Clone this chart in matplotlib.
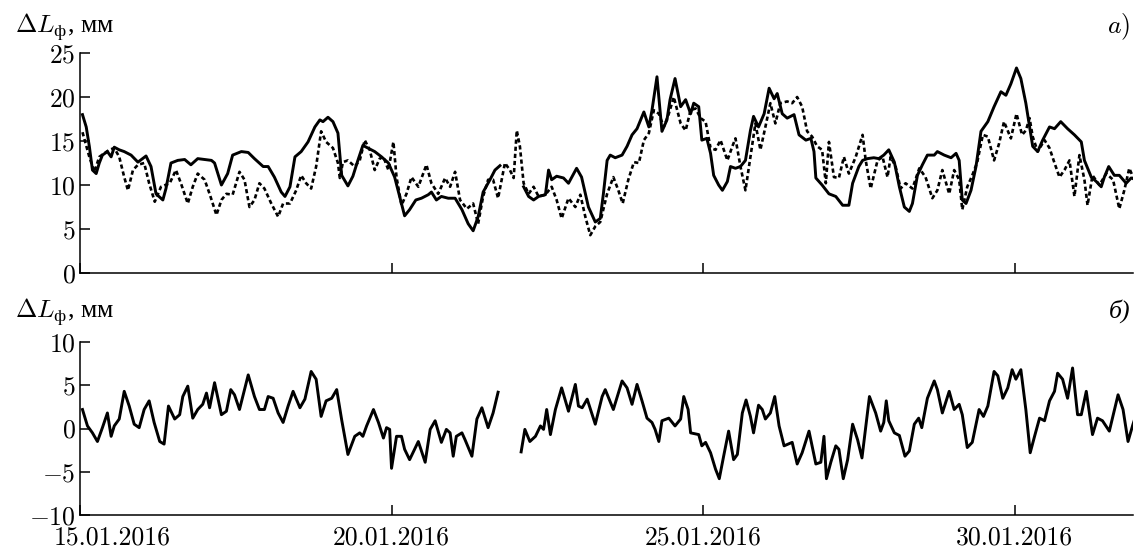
import numpy as np
import matplotlib
matplotlib.use("Agg")
import matplotlib.pyplot as plt
import matplotlib.transforms as mtransforms

plt.rcParams['font.family'] = ['cmr10', 'Liberation Serif', 'DejaVu Serif']
plt.rcParams['mathtext.fontset'] = 'cm'
plt.rcParams['axes.formatter.use_mathtext'] = True
plt.rcParams['font.size'] = 18.5

# --- top panel: measured (solid) and model (dashed), mm; x = day of January 2016
solid_days = [15.04, 15.10, 15.15, 15.20, 15.26, 15.31, 15.36, 15.44, 15.50, 15.55, 15.63, 15.71,
              15.82, 15.93, 16.06, 16.14, 16.22, 16.33, 16.38, 16.46, 16.57, 16.68, 16.78, 16.89,
              17.00, 17.11, 17.16, 17.27, 17.37, 17.45, 17.59, 17.70, 17.80, 17.94, 18.02, 18.12,
              18.23, 18.29, 18.37, 18.45, 18.55, 18.66, 18.77, 18.85, 18.90, 18.98, 19.06, 19.14,
              19.20, 19.30, 19.38, 19.46, 19.54, 19.62, 19.73, 19.84, 19.95, 20.05, 20.13, 20.21,
              20.29, 20.39, 20.48, 20.59, 20.64, 20.72, 20.80, 20.91, 21.02, 21.13, 21.23, 21.31,
              21.39, 21.47, 21.58, 21.66, 21.74, 21.90,
              22.12, 22.20, 22.28, 22.36, 22.47, 22.52, 22.57, 22.65, 22.76, 22.84, 22.97, 23.05,
              23.16, 23.27, 23.35,
              23.40, 23.46, 23.51, 23.59, 23.70, 23.78, 23.86, 23.94, 24.05, 24.13, 24.18, 24.26,
              24.34, 24.42, 24.47, 24.55, 24.64, 24.72, 24.80, 24.85, 24.93, 24.98, 25.06, 25.12,
              25.17, 25.25, 25.31, 25.39, 25.44, 25.52, 25.60, 25.68, 25.76, 25.81, 25.89, 25.98,
              26.06, 26.14, 26.19, 26.27, 26.35, 26.46, 26.54, 26.65, 26.73, 26.78, 26.81, 26.91,
              27.02, 27.13, 27.24, 27.34, 27.40, 27.50,
              27.56, 27.64, 27.74, 27.82, 27.90, 27.98, 28.07, 28.15, 28.23, 28.31, 28.36, 28.44,
              28.52, 28.60, 28.71, 28.76, 28.87, 28.98, 29.06, 29.11, 29.16, 29.22, 29.30, 29.38,
              29.46, 29.57, 29.67, 29.78, 29.86, 29.94, 30.03, 30.10, 30.18, 30.24, 30.29, 30.37,
              30.45, 30.56, 30.64, 30.74, 30.85, 30.96, 31.07, 31.12, 31.23, 31.31, 31.39, 31.44,
              31.51, 31.60, 31.68, 31.79, 31.87, 31.95]
solid_vals = [18.0, 16.6, 14.4, 11.7, 11.3, 12.5, 13.4, 13.8, 13.2, 14.3, 14.0, 13.8,
              13.4, 12.6, 13.3, 12.1, 9.0, 8.3, 9.6, 12.5, 12.8, 12.9, 12.3, 13.0,
              12.9, 12.8, 12.5, 10.0, 11.3, 13.4, 13.8, 13.7, 13.0, 12.1, 12.1, 10.9,
              9.2, 8.7, 9.8, 13.2, 13.8, 14.9, 16.6, 17.4, 17.2, 17.7, 17.2, 15.9,
              11.1, 9.9, 11.0, 12.8, 14.5, 14.2, 13.8, 13.2, 12.5, 10.9, 8.7, 6.5,
              7.2, 8.3, 8.5, 8.9, 9.2, 8.3, 8.7, 8.5, 8.5, 7.2, 5.6, 4.8,
              6.4, 9.2, 10.6, 11.7, 12.2, np.nan,
              9.8, 8.7, 8.3, 8.7, 8.9, 11.7, 10.6, 11.0, 10.8, 10.2, 11.9, 10.9,
              7.5, 5.8, 6.2,
              9.0, 12.8, 13.4, 13.1, 13.4, 14.4, 15.7, 16.4, 18.3, 16.6, 18.5, 22.3,
              16.1, 17.4, 19.7, 22.1, 18.9, 19.7, 18.1, 19.3, 18.9, 15.1, 15.3, 13.6,
              11.1, 10.0, 9.4, 10.4, 12.1, 11.9, 12.1, 12.8, 16.2, 17.8, 16.6, 18.1,
              21.0, 19.8, 20.4, 18.1, 17.6, 18.0, 15.7, 15.1, 15.3, 13.8, 10.8, 10.0,
              9.0, 8.7, 7.7, 7.7, 10.2, 12.1,
              12.8, 13.0, 13.1, 13.0, 13.4, 14.0, 12.6, 9.8, 7.5, 7.0, 7.9, 11.1,
              12.3, 13.4, 13.4, 13.8, 13.4, 13.1, 13.6, 12.8, 8.3, 7.9, 9.4, 12.1,
              16.1, 17.2, 18.9, 20.6, 20.2, 21.5, 23.3, 22.1, 19.3, 16.6, 14.4, 13.8,
              15.1, 16.6, 16.4, 17.2, 16.4, 15.7, 14.9, 12.8, 10.9, 10.4, 9.8, 10.9,
              12.1, 11.1, 11.1, 10.2, 10.8, 10.6]

dash_days = [15.04, 15.15, 15.23, 15.31, 15.39, 15.47, 15.55, 15.63, 15.71, 15.77, 15.85, 15.93,
             16.03, 16.11, 16.20, 16.30, 16.44, 16.54, 16.62, 16.73, 16.81, 16.89, 17.00, 17.08,
             17.19, 17.27, 17.35, 17.45, 17.56, 17.64, 17.72, 17.80, 17.88, 17.96, 18.07, 18.18,
             18.26, 18.37, 18.47, 18.55, 18.63, 18.71, 18.79, 18.87, 18.95, 19.06, 19.14, 19.17,
             19.22, 19.30, 19.41, 19.49, 19.57, 19.65, 19.73, 19.81, 19.87, 19.95, 20.03, 20.08,
             20.16, 20.24, 20.32, 20.43, 20.56, 20.64, 20.75, 20.86, 20.94, 21.02, 21.10, 21.21,
             21.31, 21.39, 21.47, 21.55, 21.63, 21.71, 21.82, 21.90, 21.96, 22.01, 22.06, 22.12,
             22.20, 22.28, 22.36, 22.47, 22.57, 22.65, 22.73, 22.84, 22.95, 23.03, 23.11, 23.19,
             23.27, 23.35, 23.46, 23.56, 23.64, 23.71, 23.80, 23.89, 23.97, 24.05, 24.13, 24.21,
             24.29, 24.37, 24.45, 24.53, 24.64, 24.72, 24.80, 24.88, 24.96, 25.04, 25.12, 25.20,
             25.28, 25.39, 25.47, 25.52, 25.60, 25.68, 25.76, 25.84, 25.92, 26.00, 26.08, 26.16,
             26.24, 26.35, 26.43, 26.51, 26.59, 26.67, 26.75, 26.83, 26.91, 26.97, 27.02, 27.10,
             27.18, 27.26, 27.34, 27.45, 27.56, 27.61, 27.69, 27.80, 27.88, 27.96, 28.01, 28.09,
             28.17, 28.25, 28.36, 28.47, 28.57, 28.68, 28.76, 28.84, 28.95, 29.03, 29.11, 29.16,
             29.24, 29.32, 29.40, 29.49, 29.57, 29.67, 29.75, 29.83, 29.94, 30.03, 30.12, 30.18,
             30.24, 30.29, 30.37, 30.48, 30.56, 30.64, 30.72, 30.80, 30.88, 30.96, 31.04, 31.12,
             31.17, 31.25, 31.36, 31.47, 31.58, 31.68, 31.76, 31.84, 31.92, 31.95]
dash_vals = [16.0, 13.2, 11.5, 13.2, 13.6, 14.0, 14.2, 13.2, 10.9, 9.4, 11.7, 12.3,
             12.5, 10.2, 8.1, 9.8, 10.2, 11.7, 10.2, 7.9, 9.8, 11.3, 10.6, 9.0,
             6.6, 8.3, 9.0, 8.9, 11.5, 10.6, 7.5, 8.3, 10.2, 9.6, 7.9, 6.4,
             7.9, 7.9, 9.4, 11.1, 10.2, 9.6, 12.1, 16.1, 14.9, 14.2, 12.5, 10.8,
             12.6, 12.8, 12.1, 12.8, 15.1, 14.0, 11.7, 13.0, 13.2, 11.7, 14.9, 10.9,
             7.7, 9.0, 10.9, 9.8, 12.3, 10.2, 9.0, 10.8, 9.8, 11.5, 8.3, 7.3,
             7.9, 5.6, 8.7, 10.6, 10.6, 8.5, 12.5, 11.7, 10.8, 16.2, 14.4, 10.2,
             9.0, 9.8, 8.7, 8.9, 9.8, 8.3, 6.2, 8.5, 7.5, 8.9, 6.4, 4.3,
             5.3, 5.8, 9.0, 10.9, 9.4, 7.9, 10.6, 12.6, 12.5, 15.1, 15.9, 18.5,
             18.1, 16.6, 18.1, 20.0, 17.0, 16.2, 18.5, 18.7, 17.6, 17.2, 14.2, 14.0,
             15.1, 12.8, 14.4, 15.3, 12.1, 9.4, 13.2, 17.0, 14.0, 16.6, 19.3, 17.0,
             19.3, 19.5, 19.3, 20.0, 18.9, 16.1, 15.5, 14.4, 14.0, 10.2, 14.9, 10.9,
             10.8, 13.2, 11.3, 13.2, 15.7, 12.8, 9.6, 12.8, 13.2, 10.9, 13.2, 12.1,
             9.6, 10.2, 9.6, 11.9, 10.9, 8.5, 9.4, 11.7, 9.0, 11.7, 10.6, 7.2,
             9.8, 11.1, 12.6, 15.7, 15.5, 12.8, 14.7, 17.2, 15.3, 18.1, 15.7, 16.2,
             17.6, 15.5, 13.8, 15.1, 14.2, 12.5, 10.9, 11.7, 12.8, 8.7, 13.4, 10.6,
             7.7, 11.1, 10.0, 11.3, 10.6, 7.3, 9.4, 11.9, 10.6, 8.9]

# --- bottom panel: difference, mm
diff_days = [15.04, 15.12, 15.20, 15.28, 15.36, 15.44, 15.50, 15.55, 15.63, 15.71, 15.79, 15.87,
             15.95, 16.03, 16.11, 16.19, 16.28, 16.35, 16.42, 16.52, 16.60, 16.65, 16.73, 16.81,
             16.89, 16.97, 17.03, 17.08, 17.16, 17.27, 17.35, 17.42, 17.48, 17.56, 17.70, 17.80,
             17.88, 17.96, 18.02, 18.10, 18.18, 18.26, 18.34, 18.42, 18.53, 18.61, 18.71, 18.79,
             18.87, 18.95, 19.04, 19.12, 19.20, 19.30, 19.41, 19.49, 19.54, 19.60, 19.71, 19.79,
             19.87, 19.92, 19.97, 20.00, 20.08, 20.16, 20.21, 20.29, 20.43, 20.54, 20.62, 20.70,
             20.80, 20.88, 20.94, 20.99, 21.04, 21.13, 21.18, 21.29, 21.37, 21.45, 21.55, 21.63,
             21.71, 21.90,
             22.08, 22.14, 22.22, 22.31, 22.39, 22.44, 22.49, 22.55, 22.63, 22.73, 22.84, 22.95,
             23.00, 23.06, 23.14, 23.27, 23.38, 23.43, 23.56, 23.70, 23.78, 23.86, 23.94, 24.02,
             24.10, 24.18, 24.23, 24.29, 24.34, 24.45, 24.55, 24.64, 24.69, 24.76, 24.80, 24.93,
             24.98, 25.04, 25.12, 25.20, 25.26, 25.33, 25.41, 25.49, 25.55, 25.63, 25.69, 25.76,
             25.81, 25.89, 25.95, 26.00, 26.08, 26.15, 26.22, 26.30, 26.43, 26.51, 26.59, 26.70,
             26.81, 26.89, 26.94, 26.98, 27.05, 27.13, 27.18, 27.25, 27.32, 27.40, 27.48, 27.55,
             27.67, 27.77, 27.85, 27.90, 27.94, 27.98, 28.07, 28.15, 28.24, 28.31, 28.39, 28.46,
             28.51, 28.60, 28.71, 28.76, 28.84, 28.95, 29.03, 29.11, 29.16, 29.24, 29.32, 29.43,
             29.50, 29.57, 29.67, 29.73, 29.81, 29.89, 29.96, 30.02, 30.10, 30.18, 30.25, 30.32,
             30.40, 30.48, 30.56, 30.64, 30.69, 30.77, 30.85, 30.93, 31.01, 31.07, 31.15, 31.25,
             31.33, 31.41, 31.52, 31.66, 31.74, 31.82, 31.90, 31.95]
diff_vals = [2.2, 0.3, -0.5, -1.5, 0.1, 1.8, -0.9, 0.3, 1.1, 4.3, 2.6, 0.5,
             0.1, 2.2, 3.2, 0.7, -1.5, -1.8, 2.6, 1.1, 1.6, 3.7, 4.9, 1.2,
             2.2, 2.8, 4.1, 2.4, 5.3, 1.6, 2.0, 4.5, 3.9, 2.2, 6.2, 3.7,
             2.2, 2.2, 3.7, 3.5, 1.8, 0.7, 2.6, 4.3, 2.4, 3.4, 6.6, 5.7,
             1.4, 3.2, 3.5, 4.5, 1.0, -3.0, -0.9, -0.5, -0.9, 0.3, 2.2, 0.7,
             -1.1, 0.1, -0.1, -4.6, -0.9, -0.9, -2.4, -3.6, -1.5, -3.9, -0.1, 0.9,
             -1.6, -0.1, -0.5, -3.2, -0.9, -0.5, -1.3, -3.2, 1.1, 2.4, 0.1, 1.8,
             4.2, np.nan,
             -2.7, -0.1, -1.5, -0.9, 0.3, -0.1, 2.2, -0.7, 2.2, 4.7, 2.0, 5.1,
             2.6, 2.4, 3.4, 0.5, 3.7, 4.5, 2.2, 5.5, 4.7, 2.8, 5.1, 3.2,
             1.2, 0.7, -0.1, -1.5, 0.9, 1.2, 0.3, 1.1, 3.7, 2.2, -0.5, -0.7,
             -2.0, -1.6, -2.8, -4.7, -5.8, -3.2, -0.3, -3.6, -3.0, 1.8, 3.3, 1.4,
             -0.5, 2.7, 2.2, 1.1, 1.8, 3.7, 0.3, -2.0, -1.6, -4.1, -2.8, -0.3,
             -4.1, -3.9, -0.9, -5.8, -3.9, -2.0, -2.4, -5.8, -3.6, 0.5, -1.3, -3.4,
             3.7, 1.8, -0.3, 0.7, 3.2, 0.9, -0.5, -0.8, -3.2, -2.6, 0.5, 1.2,
             0.1, 3.5, 5.5, 4.5, 1.8, 4.3, 2.2, 2.8, 1.6, -2.2, -1.6, 2.2,
             1.4, 2.6, 6.6, 6.1, 3.5, 4.7, 6.8, 5.7, 6.8, 2.2, -2.8, -0.9,
             1.2, 0.9, 3.2, 4.3, 6.4, 5.7, 3.5, 7.0, 1.6, 1.6, 4.3, -0.7,
             1.2, 0.9, -0.3, 3.9, 2.2, -1.5, 0.5, 1.6]

date_ticks = [15, 20, 25, 30]
date_labels = ['15.01.2016', '20.01.2016', '25.01.2016', '30.01.2016']

fig = plt.figure(figsize=(11.41, 5.5), dpi=100)
ax1 = fig.add_axes([0.0701, 0.5036, 0.9229, 0.40])
ax2 = fig.add_axes([0.0701, 0.0636, 0.9229, 0.3145])

ax1.plot(solid_days, solid_vals, color='black', lw=2.1, solid_joinstyle='round')
ax1.plot(dash_days, dash_vals, color='black', lw=1.9, linestyle=(0, (1.6, 1.1)))
ax2.plot(diff_days, diff_vals, color='black', lw=2.1, solid_joinstyle='round')

for ax in (ax1, ax2):
    ax.set_xlim(15.0, 31.9)
    ax.spines['top'].set_visible(False)
    ax.spines['right'].set_visible(False)
    ax.spines['left'].set_linewidth(1.1)
    ax.spines['bottom'].set_linewidth(1.1)
    ax.set_xticks(date_ticks)
    ax.tick_params(direction='in', length=7, width=1.1, pad=3)
    ax.tick_params(axis='x', pad=8)

ax1.set_ylim(0, 25)
ax1.set_yticks([0, 5, 10, 15, 20, 25])
ax1.set_xticklabels([])

ax2.set_ylim(-10, 10)
ax2.set_yticks([-10, -5, 0, 5, 10])
ax2.set_xticklabels(date_labels)
first = ax2.get_xticklabels()[0]
first.set_transform(first.get_transform() +
                    mtransforms.ScaledTranslation(0.32, 0, fig.dpi_scale_trans))

label_font = ['Liberation Serif', 'DejaVu Serif']
fig.text(15 / 1141, 1 - 33 / 550, r'$\Delta L_{\mathrm{ф}}$, мм', va='baseline', ha='left',
         family=label_font)
fig.text(15 / 1141, 1 - 318 / 550, r'$\Delta L_{\mathrm{ф}}$, мм', va='baseline', ha='left',
         family=label_font)
fig.text(1130 / 1141, 1 - 33 / 550, r'$a)$', va='baseline', ha='right')
fig.text(1130 / 1141, 1 - 318 / 550, 'б)', va='baseline', ha='right', style='italic',
         family=label_font)

fig.savefig('out.png', dpi=100)
